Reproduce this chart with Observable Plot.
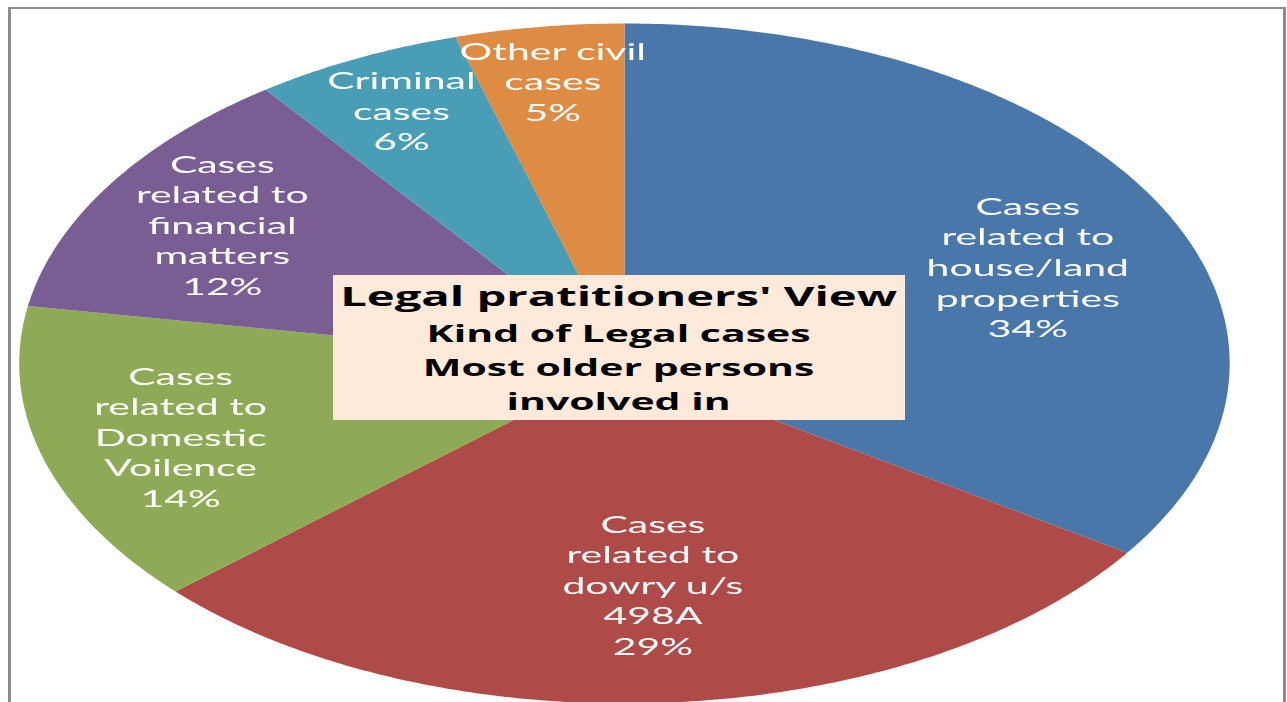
<!DOCTYPE html>
<html>
<head>
<meta charset="utf-8">
<script src="https://cdn.jsdelivr.net/npm/d3@7"></script>
<script src="https://cdn.jsdelivr.net/npm/@observablehq/plot@0.6"></script>
<style>
  html, body { margin: 0; padding: 0; background: #fff; overflow: hidden; width: 1287px; height: 702px; }
  #border { position: absolute; left: 8px; top: 7px; width: 1272px; height: 760px;
            border-top: 2px solid #8c8c8c; border-left: 3px solid #8c8c8c; border-right: 3px solid #8c8c8c; }
  #stage { position: absolute; left: 0; top: 0; width: 723px; height: 702px;
           transform: scaleX(1.7801); transform-origin: 0 0; }
  #stage svg { position: absolute; left: 0; top: 0; }
  #title { position: absolute; background: #fdeadb; font-family: "Open Sans", sans-serif; font-weight: bold; color: #000;
           text-align: center; box-sizing: border-box; padding-top: 2px; white-space: nowrap; }
  #title .l1 { font-size: 26.5px; line-height: 39px; }
  #title .l2 { font-size: 23px; line-height: 34px; }
</style>
</head>
<body>
<div id="border"></div>
<div id="stage"></div>
<script>
// Data
const categories = [
  "Cases\nrelated to\nhouse/land\nproperties",
  "Cases\nrelated to\ndowry u/s\n498A",
  "Cases\nrelated to\nDomestic\nVoilence",
  "Cases\nrelated to\nfinancial\nmatters",
  "Criminal\ncases",
  "Other civil\ncases"
];
const shares = [34.4, 28.9, 14.4, 12.2, 5.6, 4.5];
const percentLabels = ["34%", "29%", "14%", "12%", "6%", "5%"];
const colors = ["#4A77AA", "#AE4B49", "#8FAA56", "#795D93", "#499DB4", "#DE8B44"];
const titleLines = ["Legal pratitioners' View", "Kind of Legal cases", "Most older persons", "involved in"];

// Layout (unstretched plot pixels)
const R = 340, cx = 350.3, cy = 363;
const titleBox = {left: 187, top: 275, width: 321, height: 145};
const fontSize = 23, lineHeight = 1.33;

// Pie geometry (unit circle, clockwise from 12 o'clock)
const arcs = d3.pie().sort(null).value(d => d)(shares);
const slicePoints = arcs.flatMap((a, i) => {
  const n = Math.max(2, Math.ceil((a.endAngle - a.startAngle) / 0.01));
  const pts = [{name: categories[i], x: 0, y: 0}];
  for (let k = 0; k <= n; ++k) {
    const t = a.startAngle + (a.endAngle - a.startAngle) * k / n;
    pts.push({name: categories[i], x: Math.sin(t), y: Math.cos(t)});
  }
  return pts;
});

// Label placement: mid-angle, smaller slices further out; nudged the least distance to clear the title box
const ctx = document.createElement("canvas").getContext("2d");
ctx.font = `${fontSize}px Lato`;
const pad = 12;
const labels = arcs.map((a, i) => {
  const text = categories[i] + "\n" + percentLabels[i];
  const lines = text.split("\n");
  const r = 0.876 - 0.0078 * a.value;
  const t = (a.startAngle + a.endAngle) / 2;
  const hw = d3.max(lines, l => ctx.measureText(l).width) / 2;
  const hh = lines.length * fontSize * lineHeight / 2;
  let px = cx + R * r * Math.sin(t), py = cy - R * r * Math.cos(t);
  const bx0 = titleBox.left - pad, bx1 = titleBox.left + titleBox.width + pad;
  const by0 = titleBox.top - pad, by1 = titleBox.top + titleBox.height + pad;
  if (px + hw > bx0 && px - hw < bx1 && py + hh > by0 && py - hh < by1) {
    const moves = [
      [bx1 - (px - hw), 0], [-(px + hw - bx0), 0],
      [0, by1 - (py - hh)], [0, -(py + hh - by0)]
    ];
    const [dx, dy] = moves.reduce((m, v) => Math.hypot(...v) < Math.hypot(...m) ? v : m);
    px += dx; py += dy;
  }
  return {text, x: (px - cx) / R, y: (cy - py) / R};
});

const chart = Plot.plot({
  width: 723,
  height: 702,
  margin: 0,
  x: {domain: [-1, 1], range: [cx - R, cx + R], axis: null},
  y: {domain: [-1, 1], range: [cy + R, cy - R], axis: null},
  color: {domain: categories, range: colors},
  style: {background: "transparent", overflow: "visible"},
  marks: [
    Plot.line(slicePoints, {x: "x", y: "y", z: "name", fill: "name", stroke: "none", curve: "linear-closed"}),
    Plot.text(labels, {x: "x", y: "y", text: "text", fill: "white", fontFamily: "Lato", fontSize, lineHeight})
  ]
});
const stage = document.getElementById("stage");
stage.appendChild(chart);

const title = document.createElement("div");
title.id = "title";
Object.assign(title.style, {
  left: titleBox.left + "px", top: titleBox.top + "px",
  width: titleBox.width + "px", height: titleBox.height + "px"
});
titleLines.forEach((t, i) => {
  const d = document.createElement("div");
  d.className = i === 0 ? "l1" : "l2";
  d.textContent = t;
  title.appendChild(d);
});
stage.appendChild(title);
</script>
</body>
</html>
